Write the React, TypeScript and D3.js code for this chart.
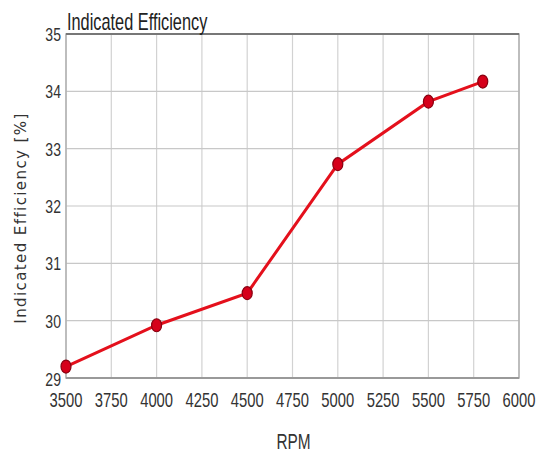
import { useEffect, useRef } from 'react';
import * as d3 from 'd3';

const rpm = [3500, 4000, 4500, 5000, 5500, 5800];
const efficiency = [29.2, 29.92, 30.48, 32.73, 33.82, 34.17];
const xTicks = [3500, 3750, 4000, 4250, 4500, 4750, 5000, 5250, 5500, 5750, 6000];
const yTicks = [29, 30, 31, 32, 33, 34, 35];

const W = 543;
const H = 453;

const App: React.FC = () => {
    const svgRef = useRef<SVGSVGElement>(null);

    useEffect(() => {
        if (!svgRef.current) return;
        d3.select(svgRef.current).selectAll('*').remove();

        const margin = { top: 34, right: 24, bottom: 75, left: 66 };
        const width = W - margin.left - margin.right;
        const height = H - margin.top - margin.bottom;
        const font = '"Liberation Sans", Arial, sans-serif';
        // the original uses a condensed face, so squeeze the text horizontally
        const squeeze = 0.74;

        const svg = d3.select(svgRef.current)
            .attr('width', W)
            .attr('height', H);

        svg.append('rect').attr('width', W).attr('height', H).attr('fill', '#fff');

        const g = svg.append('g')
            .attr('transform', `translate(${margin.left},${margin.top})`);

        const xScale = d3.scaleLinear().domain([3500, 6000]).range([0, width]);
        const yScale = d3.scaleLinear().domain([29, 35]).range([height, 0]);

        // grid
        g.append('g')
            .selectAll('line')
            .data(xTicks)
            .join('line')
            .attr('x1', d => xScale(d))
            .attr('x2', d => xScale(d))
            .attr('y1', 0)
            .attr('y2', height)
            .attr('stroke', '#d2d2d2')
            .attr('stroke-width', 1.2);

        g.append('g')
            .selectAll('line')
            .data(yTicks)
            .join('line')
            .attr('x1', 0)
            .attr('x2', width)
            .attr('y1', d => yScale(d))
            .attr('y2', d => yScale(d))
            .attr('stroke', '#c8c8c8')
            .attr('stroke-width', 1.2);

        // frame
        g.append('rect')
            .attr('width', width)
            .attr('height', height)
            .attr('fill', 'none')
            .attr('stroke', '#b0b0b0')
            .attr('stroke-width', 1.5);
        g.append('line')
            .attr('x1', 0).attr('x2', width)
            .attr('y1', 0).attr('y2', 0)
            .attr('stroke', '#777')
            .attr('stroke-width', 2);
        g.append('line')
            .attr('x1', 0).attr('x2', width)
            .attr('y1', height).attr('y2', height)
            .attr('stroke', '#999')
            .attr('stroke-width', 2);

        // tick labels
        g.append('g')
            .selectAll('text')
            .data(xTicks)
            .join('text')
            .attr('transform', d => `translate(${xScale(d)},${height + 29}) scale(${squeeze},1)`)
            .attr('text-anchor', 'middle')
            .style('font-family', font)
            .style('font-size', '20px')
            .style('fill', '#333')
            .text(d => d);

        g.append('g')
            .selectAll('text')
            .data(yTicks)
            .join('text')
            .attr('transform', d => `translate(-5,${yScale(d) + (d === 29 ? 8 : 7)}) scale(${squeeze},1)`)
            .attr('text-anchor', 'end')
            .style('font-family', font)
            .style('font-size', '19px')
            .style('fill', '#333')
            .text(d => d);

        // title
        svg.append('text')
            .attr('transform', `translate(${margin.left + 1},30) scale(0.71,1)`)
            .style('font-family', font)
            .style('font-size', '23px')
            .style('fill', '#222')
            .text('Indicated Efficiency');

        // axis labels
        svg.append('text')
            .attr('transform', `translate(${margin.left + width / 2 + 1},449) scale(0.7,1)`)
            .attr('text-anchor', 'middle')
            .style('font-family', font)
            .style('font-size', '22px')
            .style('fill', '#333')
            .text('RPM');

        svg.append('text')
            .attr('transform', 'rotate(-90)')
            .attr('x', -218)
            .attr('y', 26)
            .attr('text-anchor', 'middle')
            .style('font-family', '"DejaVu Sans", sans-serif')
            .style('font-size', '15px')
            .style('letter-spacing', '1.4px')
            .style('fill', '#333')
            .text('Indicated Efficiency [%]');

        // series
        const pts = rpm.map((r, i) => [r, efficiency[i]] as [number, number]);
        const line = d3.line<[number, number]>()
            .x(d => xScale(d[0]))
            .y(d => yScale(d[1]));

        g.append('path')
            .datum(pts)
            .attr('d', line)
            .attr('fill', 'none')
            .attr('stroke', '#e4101c')
            .attr('stroke-width', 3);

        g.append('g')
            .selectAll('ellipse')
            .data(pts)
            .join('ellipse')
            .attr('cx', d => xScale(d[0]))
            .attr('cy', d => yScale(d[1]))
            .attr('rx', 5)
            .attr('ry', 6.5)
            .attr('fill', '#d6001a')
            .attr('stroke', '#8a0010')
            .attr('stroke-width', 1.2);
    }, []);

    return (
        <svg ref={svgRef} style={{ position: 'absolute', left: 0, top: 0 }}></svg>
    );
};

export default App;
